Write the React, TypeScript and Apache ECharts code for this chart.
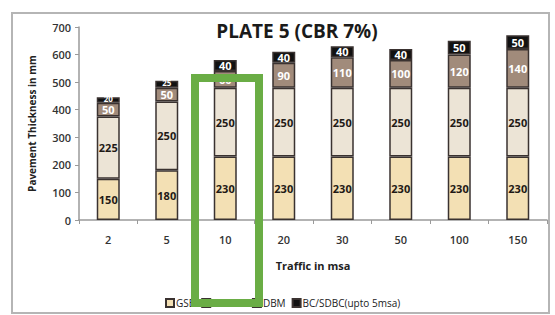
import React, { useEffect, useRef } from "react";
import * as echarts from "echarts";

const categories = ["2", "5", "10", "20", "30", "50", "100", "150"];
const gsb = [150, 180, 230, 230, 230, 230, 230, 230];
const gBase = [225, 250, 250, 250, 250, 250, 250, 250];
const dbm = [50, 50, 60, 90, 110, 100, 120, 140];
const bc = [20, 25, 40, 40, 40, 40, 50, 50];
const seriesNames = ["GSB", "G BASE", "DBM", "BC/SDBC(upto 5msa)"];
const yTicks = { min: 0, max: 700, interval: 100 };

const FONT = "Open Sans";

export default function App() {
  const ref = useRef<HTMLDivElement>(null);
  useEffect(() => {
    const chart = echarts.init(ref.current!, undefined, { renderer: "svg" });
    const mk = (name: string, data: number[], color: string, textColor: string, small = false) => ({
      name,
      type: "bar",
      stack: "total",
      data: data.map((v) =>
        small && v < 30
          ? { value: v, label: { fontSize: 8, offset: [0, -2] } }
          : v
      ),
      barWidth: 23,
      itemStyle: { color, borderColor: "#3a3230", borderWidth: 1.5 },
      label: {
        show: true,
        position: "inside",
        color: textColor,
        fontFamily: FONT,
        fontWeight: "bold",
        fontSize: 11,
      },
    });
    chart.setOption({
      animation: false,
      backgroundColor: "#ffffff",
      title: {
        text: "PLATE 5 (CBR 7%)",
        left: 292,
        textAlign: "center",
        top: 16,
        textStyle: { fontFamily: FONT, fontWeight: "bold", fontSize: 19, color: "#1a1a1a" },
      },
      grid: { left: 79, right: 8, top: 27, bottom: 95 },
      xAxis: {
        type: "category",
        data: categories,
        name: "Traffic in msa",
        nameLocation: "middle",
        nameGap: 40,
        nameTextStyle: { fontFamily: FONT, fontWeight: "bold", fontSize: 11, color: "#222" },
        axisLine: { lineStyle: { color: "#9a9a9a", width: 1.5 } },
        axisTick: { show: true, alignWithLabel: false, length: 4, lineStyle: { color: "#9a9a9a" } },
        axisLabel: { fontFamily: FONT, fontSize: 11, color: "#333", margin: 14, fontWeight: 600 },
      },
      yAxis: {
        type: "value",
        min: yTicks.min,
        max: yTicks.max,
        interval: yTicks.interval,
        name: "Pavement Thickness in mm",
        nameLocation: "middle",
        nameGap: 42,
        nameTextStyle: { fontFamily: FONT, fontWeight: "bold", fontSize: 10, color: "#222" },
        axisLine: { show: true, lineStyle: { color: "#9a9a9a", width: 1.5 } },
        axisTick: { show: true, length: 4, lineStyle: { color: "#9a9a9a" } },
        splitLine: { show: false },
        axisLabel: { fontFamily: FONT, fontSize: 11, color: "#333", margin: 8, fontWeight: 600 },
      },
      legend: {
        data: seriesNames,
        left: 160,
        top: 293,
        itemWidth: 8,
        itemHeight: 8,
        itemGap: 6,
        icon: "rect",
        textStyle: { fontFamily: FONT, fontSize: 10, color: "#222", padding: [0, 0, 0, -3] },
      },
      series: [
        mk(seriesNames[0], gsb, "#f3e0b4", "#1f1a16"),
        mk(seriesNames[1], gBase, "#ece4d6", "#1f1a16"),
        mk(seriesNames[2], dbm, "#a18b7b", "#ffffff"),
        mk(seriesNames[3], bc, "#111111", "#ffffff", true),
      ],
      graphic: [
        {
          type: "rect",
          shape: { x: 12, y: 13, width: 537, height: 300 },
          style: { fill: "none", stroke: "#b5b5b5", lineWidth: 2 },
          z: -1,
        },
        {
          type: "rect",
          shape: { x: 195, y: 78, width: 64, height: 225 },
          style: { fill: "none", stroke: "#6aad45", lineWidth: 8 },
          z: 100,
        },
      ],
    });
    return () => chart.dispose();
  }, []);
  return (
    <div
      ref={ref}
      style={{ position: "fixed", left: 0, top: 0, width: 555, height: 315 }}
    />
  );
}
